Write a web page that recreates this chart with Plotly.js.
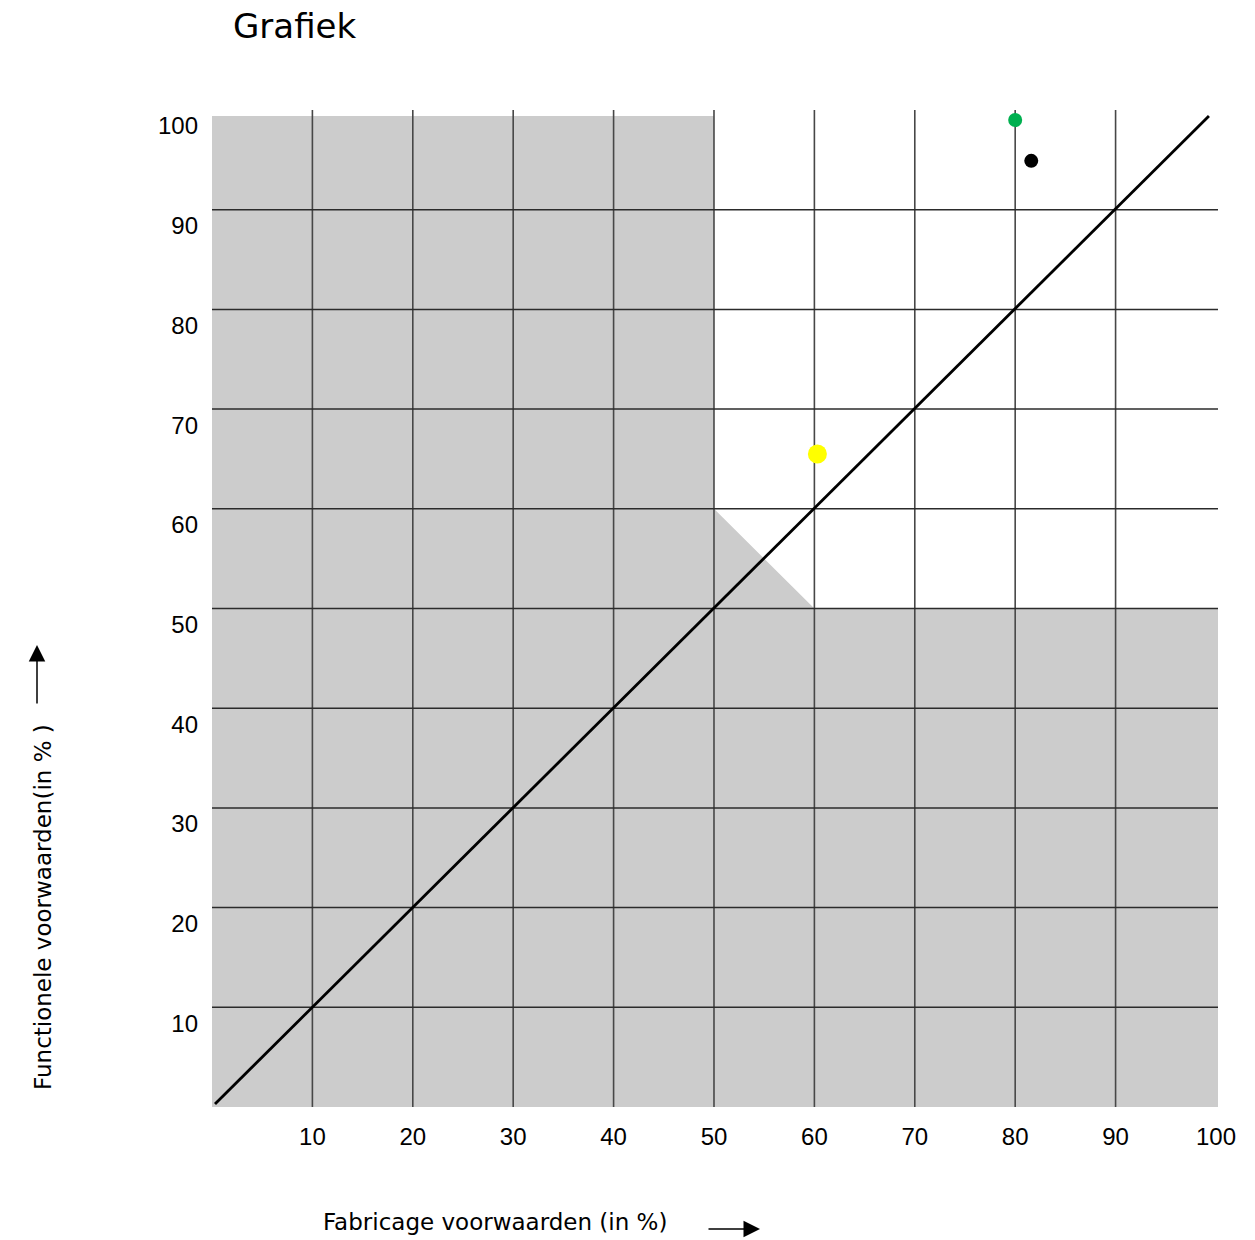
<!DOCTYPE html>
<html>
<head>
<meta charset="utf-8">
<script src="https://cdn.plot.ly/plotly-3.0.1.min.js"></script>
<style>html,body{margin:0;padding:0;background:#fff;}#chart{width:1255px;height:1240px;}</style>
</head>
<body>
<div id="chart"></div>
<script>
// ---- data ----
const tickValues = [10, 20, 30, 40, 50, 60, 70, 80, 90, 100];
const tickLabels = ['10', '20', '30', '40', '50', '60', '70', '80', '90', '100'];
const gridValues = [10, 20, 30, 40, 50, 60, 70, 80, 90];
const regionX = [0, 0, 50, 50, 60, 100.2, 100.2, 0];
const regionY = [0, 99.4, 99.4, 60, 50, 50, 0, 0];
const diagonalX = [0.3, 99.3];
const diagonalY = [0.3, 99.4];
const pointNames = ['groen', 'zwart', 'geel'];
const pointX = [80, 81.6, 60.3];
const pointY = [99.0, 94.9, 65.5];

const titleText = 'Grafiek';
const xTitleText = 'Fabricage voorwaarden (in %)';
const yTitleText = 'Functionele voorwaarden(in % )';

// ---- styles ----
const pointColors = ['#00b050', '#000000', '#ffff00'];
const pointSizes = [14, 14, 19];
const FONT = '"DejaVu Sans", sans-serif';
const TICKFONT = '"Liberation Sans", Arial, sans-serif';

// grid line segments built from gridValues
const vx = [], vy = [], hx = [], hy = [];
gridValues.forEach(v => {
  vx.push(v, v, null); vy.push(0, 100, null);
  hx.push(0, 100.2, null); hy.push(v, v, null);
});

const traces = [
  {x: regionX, y: regionY, type: 'scatter', mode: 'lines', fill: 'toself',
   fillcolor: '#cccccc', line: {width: 0, color: '#cccccc'}, hoverinfo: 'skip', showlegend: false},
  {x: vx, y: vy, type: 'scatter', mode: 'lines', line: {color: '#474747', width: 1.6},
   hoverinfo: 'skip', showlegend: false},
  {x: hx, y: hy, type: 'scatter', mode: 'lines', line: {color: '#2b2b2b', width: 1.5},
   hoverinfo: 'skip', showlegend: false},
  {x: diagonalX, y: diagonalY, type: 'scatter', mode: 'lines', line: {color: '#000000', width: 2.8},
   hoverinfo: 'skip', showlegend: false}
];
pointNames.forEach((n, i) => {
  traces.push({x: [pointX[i]], y: [pointY[i]], name: n, type: 'scatter', mode: 'markers',
    marker: {color: pointColors[i], size: pointSizes[i]}, showlegend: false});
});

const L = 212, T = 110, W = 1009, H = 997;
const px = p => (p - L) / W;           // pixel -> paper x
const py = p => (T + H - p) / H;       // pixel -> paper y

const layout = {
  width: 1255, height: 1240,
  margin: {l: L, r: 1255 - L - W, t: T, b: 1240 - T - H},
  paper_bgcolor: '#ffffff', plot_bgcolor: '#ffffff',
  font: {family: FONT, color: '#000000'},
  showlegend: false,
  title: {text: titleText, font: {family: FONT, size: 34, color: '#000'},
          x: 233 / 1255, xanchor: 'left', xref: 'container', y: 1 - 26 / 1240, yanchor: 'middle', yref: 'container'},
  xaxis: {range: [0, 100.5], showgrid: false, zeroline: false, showline: false, ticks: '',
          tickmode: 'array', tickvals: tickValues, ticktext: tickLabels,
          tickfont: {family: TICKFONT, size: 24, color: '#000'}, ticklabelstandoff: 13, fixedrange: true},
  yaxis: {range: [0, 100], showgrid: false, zeroline: false, showline: false, ticks: '',
          tickmode: 'array', tickvals: tickValues, ticktext: tickLabels,
          tickfont: {family: TICKFONT, size: 24, color: '#000'}, ticklabelstandoff: 13,
          ticklabelshift: 16, fixedrange: true},
  annotations: [
    {xref: 'paper', yref: 'paper', x: px(495), y: py(1222), text: xTitleText, showarrow: false,
     xanchor: 'center', yanchor: 'middle', font: {family: FONT, size: 23, color: '#000'}},
    {xref: 'paper', yref: 'paper', x: px(43), y: py(907), text: yTitleText, showarrow: false,
     textangle: -90, xanchor: 'center', yanchor: 'middle', font: {family: FONT, size: 23, color: '#000'}},
    {xref: 'paper', yref: 'paper', x: px(760), y: py(1229), ax: -53, ay: 0, text: '',
     showarrow: true, arrowhead: 2, arrowsize: 2.2, arrowwidth: 1.5, arrowcolor: '#000'},
    {xref: 'paper', yref: 'paper', x: px(37), y: py(645), ax: 0, ay: 60, text: '',
     showarrow: true, arrowhead: 2, arrowsize: 2.2, arrowwidth: 1.5, arrowcolor: '#000'}
  ]
};

Plotly.newPlot('chart', traces, layout, {displayModeBar: false, staticPlot: true});
</script>
</body>
</html>
